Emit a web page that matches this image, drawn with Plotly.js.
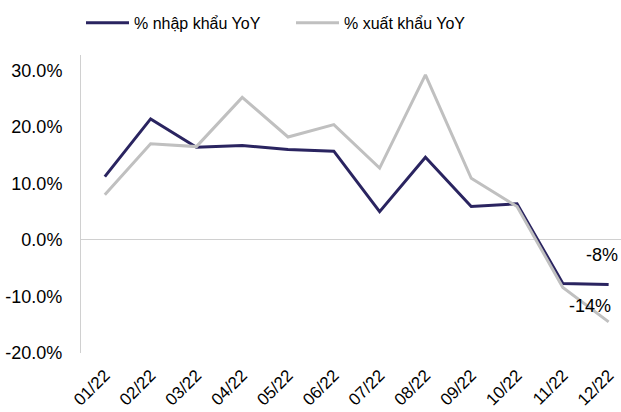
<!DOCTYPE html>
<html>
<head>
<meta charset="utf-8">
<script src="https://cdn.plot.ly/plotly-3.0.1.min.js"></script>
<style>html,body{margin:0;padding:0;background:#fff;}#chart{width:621px;height:412px;}</style>
</head>
<body>
<div id="chart"></div>
<script>
const months = ["01/22","02/22","03/22","04/22","05/22","06/22","07/22","08/22","09/22","10/22","11/22","12/22"];
const importYoY = [11.2, 21.4, 16.4, 16.7, 16.0, 15.7, 5.0, 14.6, 5.9, 6.4, -7.7, -7.9];
const exportYoY = [8.0, 17.0, 16.5, 25.2, 18.2, 20.4, 12.7, 29.2, 10.9, 5.9, -8.4, -14.5];
const importName = "% nhập khẩu YoY";
const exportName = "% xuất khẩu YoY";
const importLabel = "-8%";
const exportLabel = "-14%";

const traces = [
  {x: months, y: importYoY, name: importName, type: "scatter", mode: "lines",
   line: {color: "#2a2460", width: 3}},
  {x: months, y: exportYoY, name: exportName, type: "scatter", mode: "lines",
   line: {color: "#c0c0c0", width: 3}}
];
const last = months.length - 1;
const layout = {
  width: 621, height: 412,
  margin: {l: 81, r: 0, t: 55, b: 59, autoexpand: false},
  paper_bgcolor: "#fff", plot_bgcolor: "#fff",
  font: {family: "Liberation Sans, Arial, sans-serif", color: "#000"},
  showlegend: true,
  legend: {orientation: "h", x: 0.0, xanchor: "left", y: 1.165, yanchor: "top",
    font: {size: 16, color: "#000"}, itemwidth: 43, traceorder: "normal",
    entrywidth: 152, entrywidthmode: "pixels"},
  xaxis: {type: "category", range: [-0.52, 11.27], showgrid: false, showline: false,
    zeroline: false, tickangle: -45, tickfont: {size: 17}, ticks: "", fixedrange: true,
    automargin: false, ticklabelstandoff: 8},
  yaxis: {range: [-20, 32.7], showgrid: false, showline: true, linecolor: "#d0d0d0",
    linewidth: 1, zeroline: true, zerolinecolor: "#d0d0d0", zerolinewidth: 1,
    tickvals: [-20, -10, 0, 10, 20, 30], ticktext: ["-20.0%","-10.0%","0.0%","10.0%","20.0%","30.0%"],
    tickfont: {size: 18}, ticks: "", ticklabelstandoff: 14, automargin: false},
  annotations: [
    {x: months[last], y: importYoY[last], text: importLabel, showarrow: false,
     xanchor: "center", yanchor: "bottom", yshift: 18, xshift: -7, font: {size: 18, color: "#000"}},
    {x: months[last], y: exportYoY[last], text: exportLabel, showarrow: false,
     xanchor: "center", yanchor: "middle", yshift: 16, xshift: -19, font: {size: 18, color: "#000"}}
  ]
};
function stretchLegendLines() {
  document.querySelectorAll("#chart .legend path.js-line, #chart .legend .legendlines path").forEach(function (p) {
    p.setAttribute("d", "M5,0h43");
  });
}
Plotly.newPlot("chart", traces, layout, {displayModeBar: false, staticPlot: true}).then(function () {
  stretchLegendLines();
  setTimeout(stretchLegendLines, 50);
});
</script>
</body>
</html>
